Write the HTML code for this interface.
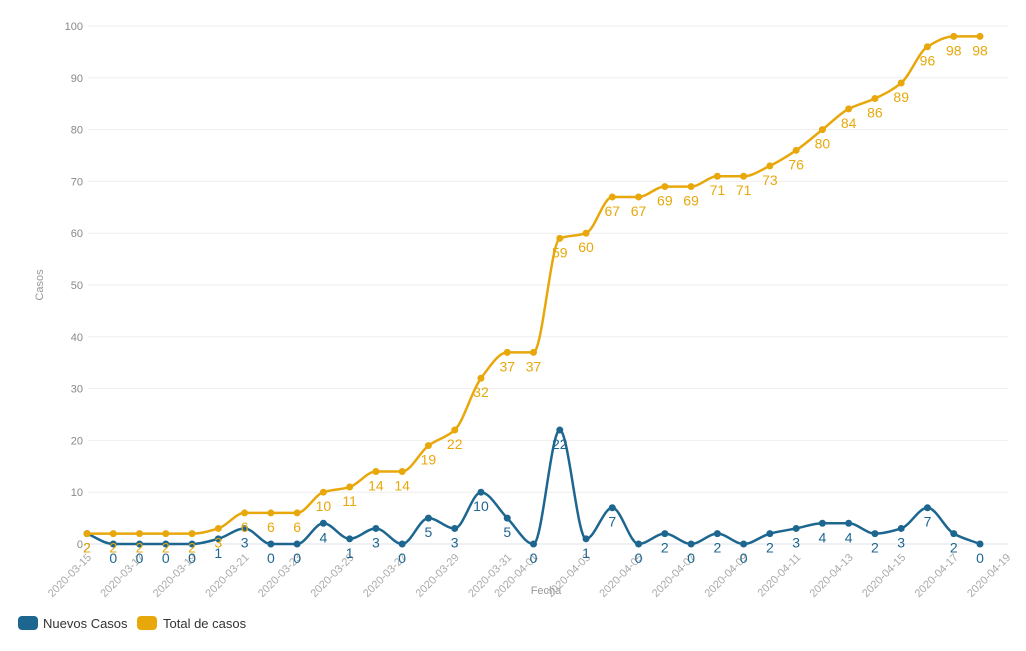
<!DOCTYPE html><html><head><meta charset="utf-8"><style>body{margin:0;background:#fff;width:1026px;height:646px;overflow:hidden;font-family:"Liberation Sans",sans-serif}</style></head><body>
<svg id="s" width="1026" height="646" xmlns="http://www.w3.org/2000/svg"></svg>
<script>
const nw=[2,0,0,0,0,1,3,0,0,4,1,3,0,5,3,10,5,0,22,1,7,0,2,0,2,0,2,3,4,4,2,3,7,2,0];
const tot=[2,2,2,2,2,3,6,6,6,10,11,14,14,19,22,32,37,37,59,60,67,67,69,69,71,71,73,76,80,84,86,89,96,98,98];
const DX=(980-87)/34, X=i=>87+i*DX, Y=v=>544-v*5.18;
let h='';
for(let k=0;k<=10;k++){const y=Y(k*10);h+=`<line x1="88" x2="1008" y1="${y}" y2="${y}" stroke="${k==0?'#dde3ea':'#eeeeee'}"/><text x="83" y="${y+4}" text-anchor="end" font-size="11" fill="#888">${k*10}</text>`;}
h+=`<text transform="translate(43,285) rotate(-90)" text-anchor="middle" font-size="11" fill="#999">Casos</text>`;
h+=`<text x="546" y="594" text-anchor="middle" font-size="11" fill="#999">Fecha</text>`;
for(let d=0;d<=35;d++){const dt=new Date(Date.UTC(2020,2,15+d));const day=dt.getUTCDate();if(day%2==0)continue;const s=dt.toISOString().slice(0,10);const x=87+d*DX+5;h+=`<text transform="translate(${x},558) rotate(-45)" text-anchor="end" font-size="11" fill="#aaa">${s}</text>`;}
function path(a){const n=a.length,p=a.map((v,i)=>[X(i),Y(v)]);const s=[],m=[];for(let i=0;i<n-1;i++)s.push((p[i+1][1]-p[i][1])/DX);
m[0]=s[0];m[n-1]=s[n-2];
for(let i=1;i<n-1;i++){if(s[i-1]*s[i]<=0)m[i]=0;else{const a1=s[i-1],b1=s[i];m[i]=2/(1/a1+1/b1);}}
let d=`M${p[0][0]},${p[0][1]}`;for(let i=0;i<n-1;i++){const t=DX/3;d+=` C${p[i][0]+t},${p[i][1]+m[i]*t} ${p[i+1][0]-t},${p[i+1][1]-m[i+1]*t} ${p[i+1][0]},${p[i+1][1]}`;}return d;}
function ser(a,c){let s=`<path d="${path(a)}" fill="none" stroke="${c}" stroke-width="2.5"/>`;a.forEach((v,i)=>{s+=`<circle cx="${X(i)}" cy="${Y(v)}" r="3.5" fill="${c}"/><text x="${X(i)}" y="${Y(v)+19}" text-anchor="middle" font-size="14" fill="${c}">${v}</text>`;});return s;}
h+=ser(nw,'#1d6690');h+=ser(tot,'#e8a80c');
h+=`<rect x="18" y="616" width="20" height="14" rx="4" fill="#1d6690"/><text x="43" y="628" font-size="13" fill="#333">Nuevos Casos</text>`;
h+=`<rect x="137" y="616" width="20" height="14" rx="4" fill="#e8a80c"/><text x="163" y="628" font-size="13" fill="#333">Total de casos</text>`;
document.getElementById('s').innerHTML=h;
</script></body></html>
